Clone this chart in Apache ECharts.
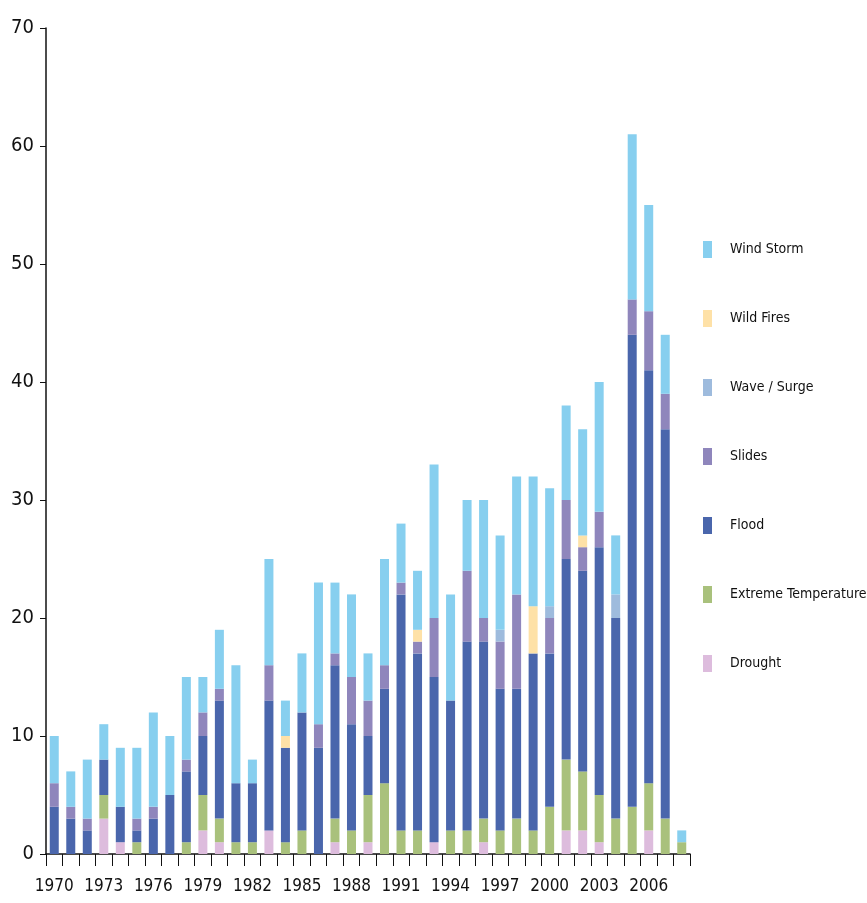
<!DOCTYPE html>
<html>
<head>
<meta charset="utf-8">
<script src="https://cdn.jsdelivr.net/npm/echarts@6/dist/echarts.min.js"></script>
<style>
  html, body { margin: 0; padding: 0; background: #fff; }
  #mainChart { width: 867px; height: 903px; }
</style>
</head>
<body>
<div id="mainChart"></div>
<script>
// years 1970 - 2008
var years = ['1970', '1971', '1972', '1973', '1974', '1975', '1976', '1977', '1978', '1979',
    '1980', '1981', '1982', '1983', '1984', '1985', '1986', '1987', '1988', '1989',
    '1990', '1991', '1992', '1993', '1994', '1995', '1996', '1997', '1998', '1999',
    '2000', '2001', '2002', '2003', '2004', '2005', '2006', '2007', '2008'];

var drought = [0, 0, 0, 3, 1, 0, 0, 0, 0, 2, 1, 0, 0, 2, 0, 0, 0, 1, 0, 1,
    0, 0, 0, 1, 0, 0, 1, 0, 0, 0, 0, 2, 2, 1, 0, 0, 2, 0, 0];
var extremeTemp = [0, 0, 0, 2, 0, 1, 0, 0, 1, 3, 2, 1, 1, 0, 1, 2, 0, 2, 2, 4,
    6, 2, 2, 0, 2, 2, 2, 2, 3, 2, 4, 6, 5, 4, 3, 4, 4, 3, 1];
var flood = [4, 3, 2, 3, 3, 1, 3, 5, 6, 5, 10, 5, 5, 11, 8, 10, 9, 13, 9, 5,
    8, 20, 15, 14, 11, 16, 15, 12, 11, 15, 13, 17, 17, 21, 17, 40, 35, 33, 0];
var slides = [2, 1, 1, 0, 0, 1, 1, 0, 1, 2, 1, 0, 0, 3, 0, 0, 2, 1, 4, 3,
    2, 1, 1, 5, 0, 6, 2, 4, 8, 0, 3, 5, 2, 3, 0, 3, 5, 3, 0];
var waveSurge = [0, 0, 0, 0, 0, 0, 0, 0, 0, 0, 0, 0, 0, 0, 0, 0, 0, 0, 0, 0,
    0, 0, 0, 0, 0, 0, 0, 1, 0, 0, 1, 0, 0, 0, 2, 0, 0, 0, 0];
var wildFires = [0, 0, 0, 0, 0, 0, 0, 0, 0, 0, 0, 0, 0, 0, 1, 0, 0, 0, 0, 0,
    0, 0, 1, 0, 0, 0, 0, 0, 0, 4, 0, 0, 1, 0, 0, 0, 0, 0, 0];
var windStorm = [4, 3, 5, 3, 5, 6, 8, 5, 7, 3, 5, 10, 2, 9, 3, 5, 12, 6, 7, 4,
    9, 5, 5, 13, 9, 6, 10, 8, 10, 11, 10, 8, 9, 11, 5, 14, 9, 5, 1];

var yTicks = [0, 10, 20, 30, 40, 50, 60, 70];

var fontNarrow = "'Liberation Sans Narrow', 'DejaVu Sans Condensed', 'Liberation Sans', sans-serif";

var myChart = echarts.init(document.getElementById('mainChart'));

function bar(name, data, color) {
    return {
        name: name,
        type: 'bar',
        stack: 'total',
        barWidth: 9,
        data: data,
        itemStyle: { color: color }
    };
}

myChart.setOption({
    animation: false,
    backgroundColor: '#fff',
    grid: {
        left: 46,
        right: 177,
        top: 28,
        bottom: 49,
        containLabel: false
    },
    legend: {
        orient: 'vertical',
        left: 698,
        top: 236,
        itemWidth: 9,
        itemHeight: 17,
        itemGap: 52,
        icon: 'rect',
        data: ['Wind Storm', 'Wild Fires', 'Wave / Surge', 'Slides', 'Flood', 'Extreme Temperature', 'Drought'],
        textStyle: {
            fontFamily: fontNarrow,
            fontSize: 14,
            color: '#111',
            padding: [0, 0, 0, 13]
        }
    },
    xAxis: {
        type: 'category',
        data: years,
        axisLine: { lineStyle: { color: '#111', width: 1.5 } },
        axisTick: {
            show: true,
            interval: 0,
            length: 12,
            lineStyle: { color: '#111' }
        },
        axisLabel: {
            interval: 2,
            margin: 24,
            fontFamily: fontNarrow,
            fontSize: 17,
            color: '#111'
        },
        splitLine: { show: false }
    },
    yAxis: {
        type: 'value',
        min: yTicks[0],
        max: yTicks[yTicks.length - 1],
        interval: 10,
        axisLine: { show: true, lineStyle: { color: '#111', width: 1.5 } },
        axisTick: { show: true, length: 6, lineStyle: { color: '#111' } },
        axisLabel: {
            margin: 12,
            fontFamily: fontNarrow,
            fontSize: 20,
            color: '#111'
        },
        splitLine: { show: false }
    },
    series: [
        bar('Drought', drought, '#ddbcdd'),
        bar('Extreme Temperature', extremeTemp, '#a9c17c'),
        bar('Flood', flood, '#4a66ac'),
        bar('Slides', slides, '#8f86bc'),
        bar('Wave / Surge', waveSurge, '#9ebbdd'),
        bar('Wild Fires', wildFires, '#fee1a7'),
        bar('Wind Storm', windStorm, '#87cfef')
    ]
});
</script>
</body>
</html>
